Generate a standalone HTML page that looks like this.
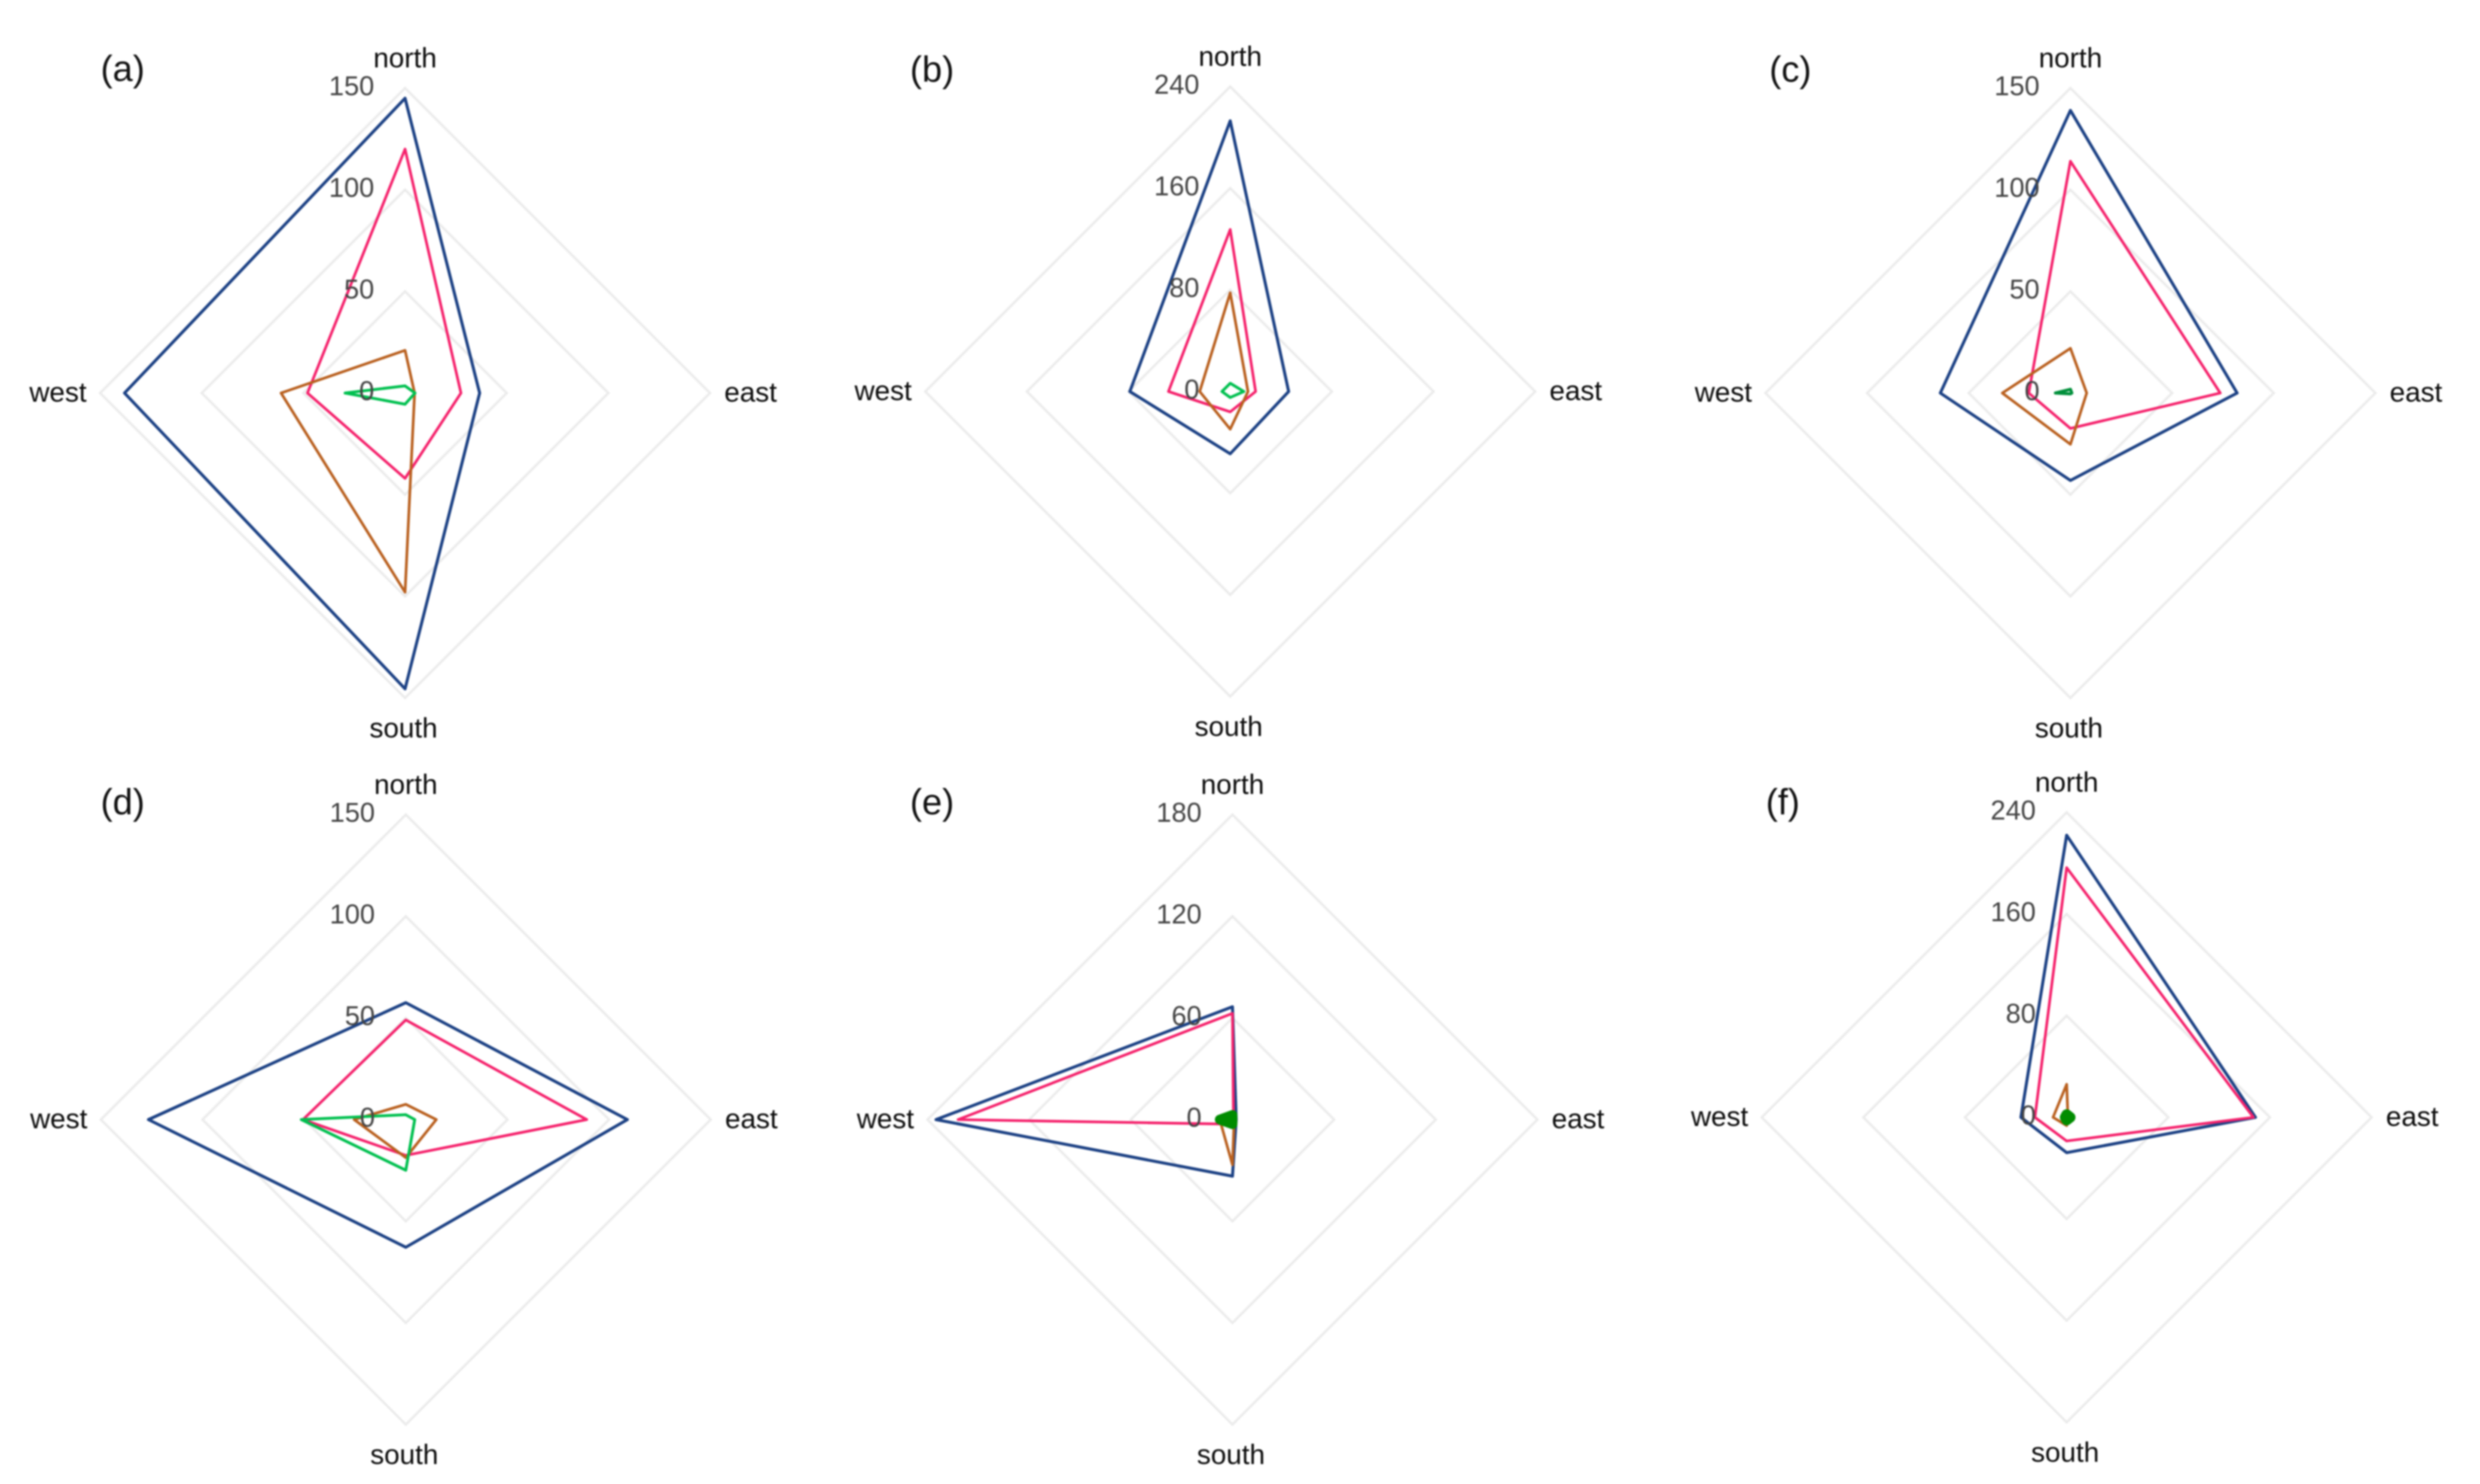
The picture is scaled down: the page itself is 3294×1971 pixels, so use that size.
<!DOCTYPE html>
<html lang="en">
<head>
<meta charset="utf-8">
<title>Radar charts (a)–(f)</title>
<style>
html,body{margin:0;padding:0;background:#fff;width:3294px;height:1971px;overflow:hidden}
svg{display:block;filter:blur(1px)}
text{font-family:"Liberation Sans",Arial,sans-serif}
</style>
</head>
<body>
<svg id="chart" xmlns="http://www.w3.org/2000/svg" width="3294" height="1971" viewBox="0 0 3294 1971"></svg>
<script>
// Axis order for all value arrays: north, east, south, west
const directions = ['north', 'east', 'south', 'west'];

const aTicks = [0, 50, 100, 150];
const aBlue = [145, 36.7, 145.5, 138];
const aPink = [120, 27.5, 42, 48];
const aBrown = [21, 4.7, 98, 61];
const aGreen = [3.5, 4.9, 5.5, 29.5];

const bTicks = [0, 80, 160, 240];
const bBlue = [213, 46, 49, 79];
const bPink = [127.5, 20, 16, 48.6];
const bBrown = [77.7, 14, 29.6, 24];
const bGreen = [6.5, 10.7, 4.7, 6.5];

const cTicks = [0, 50, 100, 150];
const cBlue = [139, 82, 43, 64];
const cPink = [114, 73.7, 17.4, 20.5];
const cBrown = [22, 8, 25.2, 33.5];
const cGreen = [1.85, 0.7, 0.4, 7.4];

const dTicks = [0, 50, 100, 150];
const dBlue = [57.5, 109, 62.8, 126.6];
const dPink = [49, 89, 17.6, 50.6];
const dBrown = [7.5, 15, 18.7, 25.4];
const dGreen = [2.4, 4.4, 24.9, 51.4];

const eTicks = [0, 60, 120, 180];
const eBlue = [66.6, 2.2, 33.4, 175];
const ePink = [62.7, 0.6, 2.7, 162];
const eBrown = [2, 1, 26.7, 7.5];
const eGreen = [2.7, 0, 2.7, 7.5];

const fTicks = [0, 80, 160, 240];
const fBlue = [222, 148.6, 27.8, 36];
const fPink = [196.5, 147, 18.6, 25];
const fBrown = [26, 1, 6.5, 10.7];
const fGreen = [2.2, 2.8, 2.2, 1.2];

const svgNS = 'http://www.w3.org/2000/svg';
const chart = document.getElementById('chart');
const RADIUS = 405;

function make(tag, parent) {
  const el = document.createElementNS(svgNS, tag);
  parent.appendChild(el);
  return el;
}

function radialScale(value, maxValue) {
  return value / maxValue * RADIUS;
}

function pointsFor(values, maxValue, cx, cy) {
  const n = radialScale(values[0], maxValue);
  const e = radialScale(values[1], maxValue);
  const s = radialScale(values[2], maxValue);
  const w = radialScale(values[3], maxValue);
  return [cx, cy - n, cx + e, cy, cx, cy + s, cx - w, cy].join(' ');
}

function drawSeries(group, name, values, maxValue, cx, cy, color, width, fill) {
  const poly = make('polygon', group);
  
  
  poly.setAttribute('points', pointsFor(values, maxValue, cx, cy));
  poly.setAttribute('fill', fill);
  poly.setAttribute('stroke', color);
  poly.setAttribute('stroke-width', width);
  poly.setAttribute('stroke-linejoin', 'round');
}

function drawPanel(id, letter, letterX, letterY, cx, cy, ticks, blue, pink, brown, green, greenColor, greenWidth, greenFill) {
  const maxValue = ticks[ticks.length - 1];
  const group = make('g', chart);
  
  

  ticks.forEach(function (tick) {
    if (tick === 0) return;
    const ring = make('polygon', group);
    
    
    ring.setAttribute('points', pointsFor([tick, tick, tick, tick], maxValue, cx, cy));
    ring.setAttribute('fill', 'none');
    ring.setAttribute('stroke', '#ebebeb');
    ring.setAttribute('stroke-width', '3.2');
  });

  const panelLabel = make('text', group);
  
  
  panelLabel.setAttribute('x', letterX);
  panelLabel.setAttribute('y', letterY);
  panelLabel.setAttribute('text-anchor', 'middle');
  panelLabel.setAttribute('dominant-baseline', 'central');
  panelLabel.setAttribute('font-size', '48');
  panelLabel.setAttribute('fill', '#111');
  panelLabel.textContent = letter;

  drawSeries(group, 'series-blue-' + id, blue, maxValue, cx, cy, '#1c4184', 4, 'none');
  drawSeries(group, 'series-pink-' + id, pink, maxValue, cx, cy, '#f5226c', 3.6, 'none');
  drawSeries(group, 'series-brown-' + id, brown, maxValue, cx, cy, '#b9601f', 3.6, 'none');
  drawSeries(group, 'series-green-' + id, green, maxValue, cx, cy, greenColor, greenWidth, greenFill);

  ticks.forEach(function (tick) {
    const label = make('text', group);
    
    
    label.setAttribute('x', cx - 41);
    label.setAttribute('y', cy - radialScale(tick, maxValue) - 3);
    label.setAttribute('text-anchor', 'end');
    label.setAttribute('dominant-baseline', 'central');
    label.setAttribute('font-size', '36');
    label.setAttribute('fill', '#444');
    label.textContent = tick;
  });

  const offsetsX = [0, 459, -2, -461];
  const offsetsY = [-444, 0, 446, 0];
  directions.forEach(function (dir, i) {
    const label = make('text', group);
    
    
    label.setAttribute('x', cx + offsetsX[i]);
    label.setAttribute('y', cy + offsetsY[i] - 1);
    label.setAttribute('text-anchor', 'middle');
    label.setAttribute('dominant-baseline', 'central');
    label.setAttribute('font-size', '37');
    label.setAttribute('fill', '#0c0c0c');
    label.textContent = dir;
  });
}

drawPanel('a', '(a)', 163, 92, 538, 522, aTicks, aBlue, aPink, aBrown, aGreen, '#00c04f', 3.8, 'none');
drawPanel('b', '(b)', 1238, 93, 1634, 520, bTicks, bBlue, bPink, bBrown, bGreen, '#00c04f', 3.8, 'none');
drawPanel('c', '(c)', 2378, 93, 2750, 522, cTicks, cBlue, cPink, cBrown, cGreen, '#008f3a', 4, 'none');
drawPanel('d', '(d)', 163, 1066, 539, 1487, dTicks, dBlue, dPink, dBrown, dGreen, '#00c04f', 3.8, 'none');
drawPanel('e', '(e)', 1238, 1066, 1637, 1487, eTicks, eBlue, ePink, eBrown, eGreen, '#008c00', 13, '#008c00');
drawPanel('f', '(f)', 2368, 1066, 2745, 1484, fTicks, fBlue, fPink, fBrown, fGreen, '#008c00', 14, '#008c00');
</script>
</body>
</html>
